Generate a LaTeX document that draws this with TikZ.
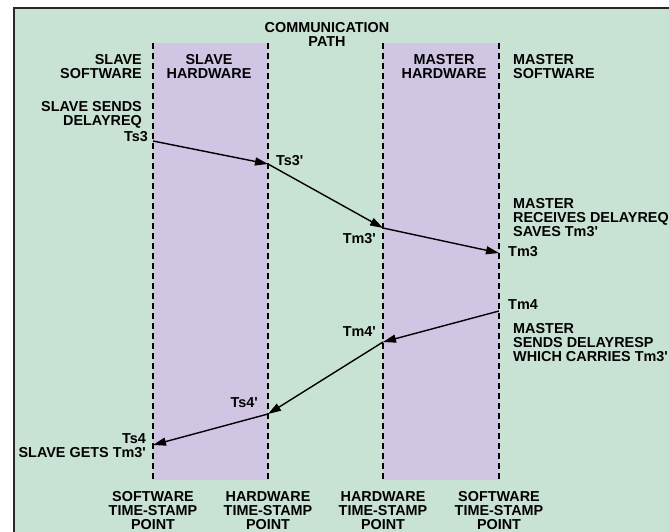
\documentclass[tikz,border=0pt]{standalone}
\usepackage{fontspec}
\setmainfont{Liberation Sans}[Ligatures=TeXOff]
\usetikzlibrary{arrows.meta}
\definecolor{bggreen}{RGB}{200,227,212}
\definecolor{bandpurple}{RGB}{208,198,228}
\definecolor{frame}{RGB}{40,40,40}
\tikzset{
  lbl/.style={inner sep=0pt, font=\bfseries\fontsize{14.4}{14.2}\selectfont},
  lblr/.style={lbl, align=right},
  lbll/.style={lbl, align=left},
  lblc/.style={lbl, align=center},
  tsline/.style={line width=1.4pt, dash pattern=on 6pt off 4pt},
  msg/.style={line width=1.4pt, -{Triangle[length=13pt,width=8pt]}, shorten >=0pt},
}
\begin{document}
\begin{tikzpicture}[x=1pt,y=-1pt]
\useasboundingbox (0,0) rectangle (669,532);
% background
\fill[bggreen] (14,8) rectangle (669,532);
\draw[frame, line width=2pt] (14,533) -- (14,8) -- (670,8);
% bands
\fill[bandpurple] (153,43) rectangle (268,480);
\fill[bandpurple] (383,43) rectangle (499,480);
% time-stamp lines
\coordinate (s1t) at (153,43); \coordinate (s1b) at (153,480);
\coordinate (s2t) at (268,43); \coordinate (s2b) at (268,480);
\coordinate (m1t) at (383,43); \coordinate (m1b) at (383,480);
\coordinate (m2t) at (499,43); \coordinate (m2b) at (499,480);
\draw[tsline] (s1t) -- (s1b);
\draw[tsline] (s2t) -- (s2b);
\draw[tsline] (m1t) -- (m1b);
\draw[tsline] (m2t) -- (m2b);
% event points
\coordinate (ts3) at (153,141);
\coordinate (ts3p) at (268,164);
\coordinate (tm3p) at (383,228);
\coordinate (tm3) at (499,253);
\coordinate (tm4) at (499,311);
\coordinate (tm4p) at (383,342);
\coordinate (ts4p) at (268,414);
\coordinate (ts4) at (153,445);
% messages
\draw[msg] (ts3) -- (ts3p);
\draw[msg] (ts3p) -- (tm3p);
\draw[msg] (tm3p) -- (tm3);
\draw[msg] (tm4) -- (tm4p);
\draw[msg] (tm4p) -- (ts4p);
\draw[msg] (ts4p) -- (ts4);
% labels
\node[lblc, anchor=north] (comm) at (327,22) {COMMUNICATION\\PATH};
\node[lblr, anchor=north east] (ssw) at (142,54) {SLAVE\\SOFTWARE};
\node[lblc, anchor=north] (shw) at (209,54) {SLAVE\\HARDWARE};
\node[lblc, anchor=north] (mhw) at (444,54) {MASTER\\HARDWARE};
\node[lbll, anchor=north west] (msw) at (513,54) {MASTER\\SOFTWARE};
\node[lblr, anchor=north east] (ssend) at (142,101) {SLAVE SENDS\\DELAYREQ};
\node[lbl, anchor=east] (lts3) at (148,137) {Ts3};
\node[lbl, anchor=west] (lts3p) at (276,161) {Ts3'};
\node[lbll, anchor=north west] (mrec) at (513,198) {MASTER\\RECEIVES DELAYREQ\\SAVES Tm3'};
\node[lbl, anchor=east] (ltm3p) at (376,239) {Tm3'};
\node[lbl, anchor=west] (ltm3) at (508,252) {Tm3};
\node[lbl, anchor=west] (ltm4) at (508,305) {Tm4};
\node[lbl, anchor=east] (ltm4p) at (376,332) {Tm4'};
\node[lbll, anchor=north west] (msend) at (513,323) {MASTER\\SENDS DELAYRESP\\WHICH CARRIES Tm3'};
\node[lbl, anchor=east] (lts4p) at (258,403) {Ts4'};
\node[lblr, anchor=north east] (lts4) at (146,433) {Ts4\\SLAVE GETS Tm3'};
\node[lblc, anchor=north] (b1) at (153,491) {SOFTWARE\\TIME-STAMP\\POINT};
\node[lblc, anchor=north] (b2) at (268,491) {HARDWARE\\TIME-STAMP\\POINT};
\node[lblc, anchor=north] (b3) at (383,491) {HARDWARE\\TIME-STAMP\\POINT};
\node[lblc, anchor=north] (b4) at (499,491) {SOFTWARE\\TIME-STAMP\\POINT};
\end{tikzpicture}
\end{document}
